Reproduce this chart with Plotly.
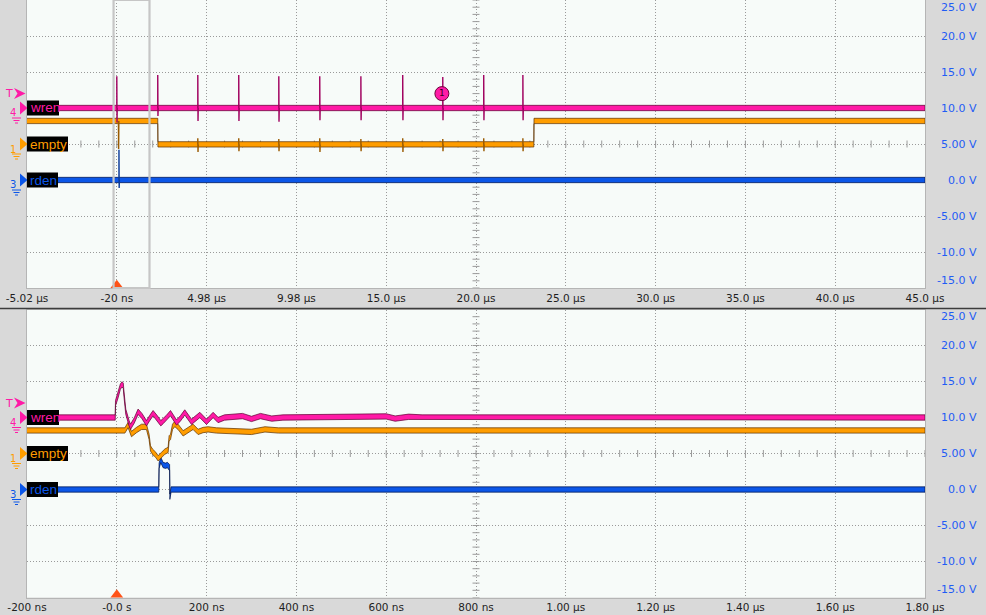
import plotly.graph_objects as go

W, H = 986, 615
PX_L, PX_R = 27, 925
TOP_Y0, TOP_Y1 = 0.0, 288.0
BOT_Y0, BOT_Y1 = 309.5, 597.5
V_MIN, V_MAX = -15.0, 25.0

# ---------------- data ----------------
top_x_ticks = [-5.02, -0.02, 4.98, 9.98, 14.98, 19.98, 24.98, 29.98, 34.98, 39.98, 44.98]
top_x_labels = ["-5.02 µs", "-20 ns", "4.98 µs", "9.98 µs", "15.0 µs", "20.0 µs",
                "25.0 µs", "30.0 µs", "35.0 µs", "40.0 µs", "45.0 µs"]
bot_x_ticks = [-200, 0, 200, 400, 600, 800, 1000, 1200, 1400, 1600, 1800]
bot_x_labels = ["-200 ns", "-0.0 s", "200 ns", "400 ns", "600 ns", "800 ns",
                "1.00 µs", "1.20 µs", "1.40 µs", "1.60 µs", "1.80 µs"]
volt_ticks = [25, 20, 15, 10, 5, 0, -5, -10, -15]
volt_labels = ["25.0 V", "20.0 V", "15.0 V", "10.0 V", "5.00 V", "0.0 V",
               "-5.00 V", "-10.0 V", "-15.0 V"]

channels = ["wren", "empty", "rden"]
channel_nums = ["4", "1", "3"]
channel_offsets = [10.0, 5.0, 0.0]
trigger_level = 12.0
trigger_t_top = -0.02      # µs
trigger_t_bot = 0.0        # ns
zoom_window = [-0.2, 1.8]  # µs
marker1_t, marker1_v = 18.08, 12.0

# top panel (µs)
wren_top_t = [-5.02, 44.98]
wren_top_v = [10.0, 10.0]
wren_spk_t = [-0.02, 2.26, 4.49, 6.77, 9.0, 11.28, 13.57, 15.9, 18.13, 20.41, 22.59]
wren_spk_hi = [14.4, 14.6, 14.6, 14.6, 14.4, 14.4, 14.4, 14.6, 14.3, 14.6, 14.6]
wren_spk_lo = [8.0, 8.9, 8.2, 8.2, 8.1, 8.3, 8.3, 8.3, 8.3, 8.3, 8.3]

empty_top_t = [-5.02, 2.26, 2.27, 23.2, 23.21, 44.98]
empty_top_v = [8.2, 8.2, 4.95, 4.95, 8.2, 8.2]
empty_spk_t = [0.07, 4.49, 6.77, 9.0, 11.28, 13.57, 15.9, 18.13, 20.41, 22.59]
empty_spk_hi = [8.2, 5.8, 5.8, 5.7, 5.8, 5.7, 5.8, 5.7, 5.8, 5.8]
empty_spk_lo = [4.3, 3.9, 4.0, 4.0, 3.9, 4.0, 3.9, 4.0, 4.0, 4.0]

rden_top_t = [-5.02, 44.98]
rden_top_v = [0.0, 0.0]
rden_spk_t = [0.1]
rden_spk_hi = [4.2]
rden_spk_lo = [-1.1]

# bottom panel (ns)
wren_bot_t = [-200, -3.5, -2.9, 2.9, 8.0, 11.8, 14.5, 15.6, 20.0, 27.4, 30.5, 39.0, 47.4,
              56.0, 66.1, 73.0, 80.8, 90.0, 98.0, 103.1, 110.0, 119.6, 133.0, 142.0, 151.4,
              166.4, 184.9, 199.8, 214.5, 225.6, 240, 280, 300, 320, 345, 370, 600, 620,
              650, 680, 1800]
wren_bot_v = [10.0, 10.0, 12.0, 13.1, 14.3, 14.6, 14.4, 13.5, 10.8, 9.2, 8.7, 9.6, 10.8,
              10.2, 9.2, 9.9, 10.6, 9.9, 9.2, 9.5, 9.9, 10.6, 9.3, 9.9, 10.7,
              9.4, 10.35, 9.4, 10.35, 9.65, 10.0, 10.2, 9.8, 10.2, 9.85, 10.0, 10.15, 9.85,
              10.1, 10.0, 10.0]

empty_bot_t = [-200, 18.0, 25.2, 32.7, 43.9, 55.0, 66.1, 71.9, 75.1, 79.5, 86.9, 92.0,
               99.6, 106.9, 114.3, 116.5, 119.6, 124.1, 129.2, 136.5, 147.7, 158.8, 169.9,
               181.1, 192.2, 203.3, 222.0, 300, 330, 360, 1800]
empty_bot_v = [8.2, 8.2, 8.96, 7.7, 8.26, 8.7, 8.7, 7.3, 5.7, 5.25, 4.8, 4.33,
               4.8, 5.25, 5.5, 7.1, 7.3, 8.7, 9.1, 8.7, 7.8, 8.26, 8.7,
               8.0, 8.26, 8.35, 8.2, 8.0, 8.35, 8.2, 8.2]

rden_bot_t = [-200, 93.5, 94.2, 98.0, 103.1, 108.5, 112.9, 115.8, 117.6, 118.2, 120.9, 123.0, 1800]
rden_bot_v = [0.0, 0.0, 3.3, 4.1, 3.4, 3.3, 3.4, 3.1, 3.1, -1.0, 0.0, 0.0, 0.0]

# ---------------- styles ----------------
COL = {"wren": "#ff1aa6", "empty": "#ff9d00", "rden": "#0b56e8"}
DARK = {"wren": "rgba(95,0,50,0.8)", "empty": "rgba(95,50,0,0.8)", "rden": "rgba(0,20,75,0.8)"}
SPK = {"wren": "#a0005f", "empty": "#9a5a00", "rden": "#0a3a9a"}
HALF = 0.37
GRID = "#9a9a9a"
FONT_TICK = "DejaVu Sans, sans-serif"
FONT_LABEL = "Liberation Sans, Arial, sans-serif"


def band(name, t, v, xa, ya):
    xs = list(t) + list(t)[::-1]
    ys = [a + HALF for a in v] + [a - HALF for a in v][::-1]
    return go.Scatter(x=xs, y=ys, xaxis=xa, yaxis=ya, mode="lines", fill="toself",
                      fillcolor=COL[name], line=dict(color=DARK[name], width=0.9),
                      hoverinfo="skip")


def spikes(name, ts, his, los, base_fn, dt, xa, ya):
    xs, ys = [], []
    for t, hi, lo in zip(ts, his, los):
        b = base_fn(t)
        xs += [t, t, t + dt, t + 2 * dt, None]
        ys += [b, hi, lo, b, None]
    return go.Scatter(x=xs, y=ys, xaxis=xa, yaxis=ya, mode="lines",
                      line=dict(color=SPK[name], width=1.4), hoverinfo="skip")


def level_at(tt, vv):
    def f(t):
        val = vv[0]
        for a, b in zip(tt, vv):
            if a <= t:
                val = b
        return val
    return f


fig = go.Figure()

# minor ticks on centre axes
for xa, ya, xs_step, x0, xc in (("x", "y", 1.0, -5.02, 19.98), ("x2", "y2", 40.0, -200.0, 800.0)):
    fig.add_trace(go.Scatter(x=[x0 + k * xs_step for k in range(51)], y=[5.0] * 51,
                             xaxis=xa, yaxis=ya, mode="markers", hoverinfo="skip",
                             marker=dict(symbol="line-ns", size=5, line=dict(color=GRID, width=1))))
    fig.add_trace(go.Scatter(x=[xc] * 41, y=[V_MIN + k for k in range(41)],
                             xaxis=xa, yaxis=ya, mode="markers", hoverinfo="skip",
                             marker=dict(symbol="line-ew", size=5, line=dict(color=GRID, width=1))))

# top traces
fig.add_trace(band("rden", rden_top_t, rden_top_v, "x", "y"))
fig.add_trace(spikes("rden", rden_spk_t, rden_spk_hi, rden_spk_lo, level_at(rden_top_t, rden_top_v), 0.012, "x", "y"))
fig.add_trace(band("empty", empty_top_t, empty_top_v, "x", "y"))
fig.add_trace(spikes("empty", empty_spk_t, empty_spk_hi, empty_spk_lo, level_at(empty_top_t, empty_top_v), 0.012, "x", "y"))
fig.add_trace(band("wren", wren_top_t, wren_top_v, "x", "y"))
fig.add_trace(spikes("wren", wren_spk_t, wren_spk_hi, wren_spk_lo, level_at(wren_top_t, wren_top_v), 0.012, "x", "y"))

# bottom traces
fig.add_trace(band("rden", rden_bot_t, rden_bot_v, "x2", "y2"))
fig.add_trace(band("empty", empty_bot_t, empty_bot_v, "x2", "y2"))
fig.add_trace(band("wren", wren_bot_t, wren_bot_v, "x2", "y2"))

# marker 1
fig.add_trace(go.Scatter(x=[marker1_t], y=[marker1_v], xaxis="x", yaxis="y", mode="markers+text",
                         text=["1"], textposition="middle center",
                         textfont=dict(family=FONT_TICK, size=9, color="#3a0020"),
                         marker=dict(size=14, color=COL["wren"], line=dict(color="#6a0038", width=1)),
                         hoverinfo="skip"))

# trigger position markers
for xa, ya, tt in (("x", "y", trigger_t_top), ("x2", "y2", trigger_t_bot)):
    fig.add_trace(go.Scatter(x=[tt], y=[V_MIN + 0.38], xaxis=xa, yaxis=ya, mode="markers",
                             marker=dict(symbol="triangle-up", size=11, color="#ff5318",
                                         line=dict(width=0)),
                             cliponaxis=False, hoverinfo="skip"))

axis_common = dict(showgrid=True, gridcolor=GRID, griddash="1px,2px", gridwidth=1,
                   zeroline=False, showline=True, linecolor="#b5b5b5", linewidth=1,
                   mirror=True, ticks="", fixedrange=True, automargin=False)

xdom = [PX_L / W, PX_R / W]
fig.update_layout(
    width=W, height=H, margin=dict(l=0, r=0, t=0, b=0, pad=0, autoexpand=False),
    paper_bgcolor="#d9d9d9", plot_bgcolor="#f7fbf9", showlegend=False,
    xaxis=dict(domain=xdom, range=[top_x_ticks[0], top_x_ticks[-1]], tickvals=top_x_ticks,
               ticktext=top_x_labels, anchor="y",
               tickfont=dict(family=FONT_TICK, size=10.5, color="#1e1e1e"), **axis_common),
    yaxis=dict(domain=[1 - TOP_Y1 / H, 1 - TOP_Y0 / H], range=[V_MIN, V_MAX], tickvals=volt_ticks,
               showticklabels=False, anchor="x", **axis_common),
    xaxis2=dict(domain=xdom, range=[bot_x_ticks[0], bot_x_ticks[-1]], tickvals=bot_x_ticks,
                ticktext=bot_x_labels, anchor="y2",
                tickfont=dict(family=FONT_TICK, size=10.5, color="#1e1e1e"), **axis_common),
    yaxis2=dict(domain=[1 - BOT_Y1 / H, 1 - BOT_Y0 / H], range=[V_MIN, V_MAX], tickvals=volt_ticks,
                showticklabels=False, anchor="x2", **axis_common),
)

shapes = []
annotations = []


def P(x, y):
    return x / W, 1 - y / H


# zoom window rectangle in top panel
shapes.append(dict(type="rect", xref="x", yref="y domain", x0=zoom_window[0], x1=zoom_window[1],
                   y0=0, y1=1, line=dict(color="#c6c6c6", width=2.2), fillcolor="rgba(0,0,0,0)"))

# separator line
sx0, sy = P(0, 308.5)
shapes.append(dict(type="line", xref="paper", yref="paper", x0=0, x1=1, y0=sy, y1=sy,
                   line=dict(color="#3c3c3c", width=1.5)))

# y labels
for yref in ("y", "y2"):
    for v, lab in zip(volt_ticks, volt_labels):
        shift = -7 if v == V_MAX else (8 if v == V_MIN else 0)
        annotations.append(dict(xref="paper", yref=yref, x=979 / W, y=v, xanchor="right",
                                yanchor="middle", yshift=shift, showarrow=False, text=lab,
                                font=dict(family=FONT_TICK, size=11, color="#1f5cf5")))

# channel labels
box_w = {"wren": 32, "empty": 41, "rden": 31}
for oy in (TOP_Y0, BOT_Y0):
    def lvl(v):
        return oy + (V_MAX - v) / (V_MAX - V_MIN) * (TOP_Y1 - TOP_Y0)
    for name, num, off in zip(channels, channel_nums, channel_offsets):
        ly = lvl(off)
        c = COL[name]
        a, b, d = P(20, ly - 6.5), P(27.5, ly), P(20, ly + 6.5)
        shapes.append(dict(type="path", xref="paper", yref="paper",
                           path=f"M {a[0]},{a[1]} L {b[0]},{b[1]} L {d[0]},{d[1]} Z",
                           fillcolor=c, line=dict(width=0)))
        x0, y0 = P(27, ly - 7.5)
        x1, y1 = P(27 + box_w[name], ly + 7.5)
        shapes.append(dict(type="rect", xref="paper", yref="paper", x0=x0, x1=x1, y0=y0, y1=y1,
                           fillcolor="black", line=dict(width=0)))
        tx, ty = P(28, ly)
        annotations.append(dict(xref="paper", yref="paper", x=tx, y=ty, xanchor="left",
                                yanchor="middle", showarrow=False, text=name,
                                font=dict(family=FONT_LABEL, size=13.5, color=c)))
        nx, ny = P(12.5, ly + 5)
        annotations.append(dict(xref="paper", yref="paper", x=nx, y=ny, xanchor="center",
                                yanchor="middle", showarrow=False, text=num,
                                font=dict(family=FONT_TICK, size=10, color=c)))
        for dy, xa_, xb_ in ((10, 12, 21), (12.5, 13.5, 19.5), (15, 15, 18)):
            p0, p1 = P(xa_, ly + dy), P(xb_, ly + dy)
            shapes.append(dict(type="line", xref="paper", yref="paper", x0=p0[0], x1=p1[0],
                               y0=p0[1], y1=p1[1], line=dict(color=c, width=1)))
    # trigger level arrow
    ly = lvl(trigger_level)
    a, b, d, e = P(14, ly - 5.5), P(25.5, ly), P(14, ly + 5.5), P(17.5, ly)
    shapes.append(dict(type="path", xref="paper", yref="paper",
                       path=f"M {a[0]},{a[1]} L {b[0]},{b[1]} L {d[0]},{d[1]} L {e[0]},{e[1]} Z",
                       fillcolor=COL["wren"], line=dict(width=0)))
    tx, ty = P(9, ly)
    annotations.append(dict(xref="paper", yref="paper", x=tx, y=ty, xanchor="center",
                            yanchor="middle", showarrow=False, text="T",
                            font=dict(family=FONT_TICK, size=11, color=COL["wren"])))

fig.update_layout(shapes=shapes, annotations=annotations)
fig.write_html("out.html", config={"displayModeBar": False},
               post_script="document.body.style.margin='0';document.body.style.padding='0';")
